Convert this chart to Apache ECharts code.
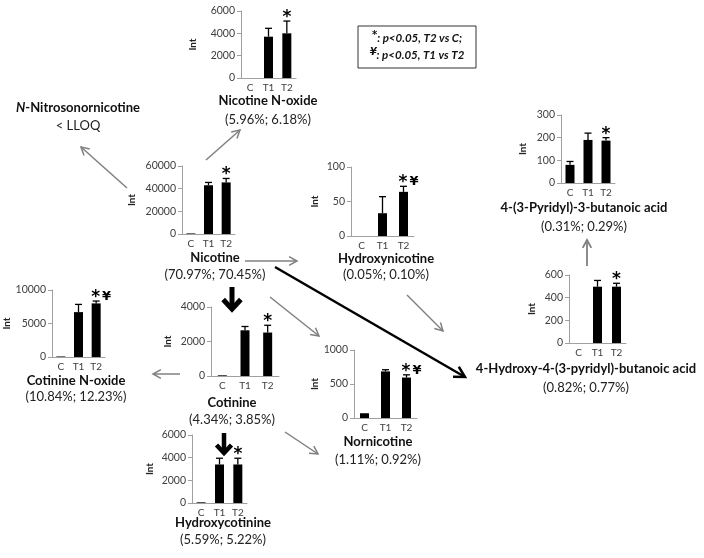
<!DOCTYPE html>
<html>
<head>
<meta charset="utf-8">
<script src="https://cdn.jsdelivr.net/npm/echarts@6/dist/echarts.min.js"></script>
<style>
  html, body { margin: 0; padding: 0; background: #fff; }
  #chart { width: 704px; height: 558px; }
</style>
</head>
<body>
<div id="chart"></div>
<script>
// groups on every small chart
const categories = ['C', 'T1', 'T2'];

// mean, error (SD) and significance marks per metabolite
const nicotineOxideMean = [0, 3700, 4000];
const nicotineOxideErr = [0, 750, 1100];
const nicotineOxideSig = ['', '', '*'];
const nicotineOxideTicks = [0, 2000, 4000, 6000];

const nicotineMean = [500, 43000, 45500];
const nicotineErr = [0, 2500, 3500];
const nicotineSig = ['', '', '*'];
const nicotineTicks = [0, 20000, 40000, 60000];

const hydroxynicotineMean = [0, 33, 64];
const hydroxynicotineErr = [0, 24, 8];
const hydroxynicotineSig = ['', '', '*¥'];
const hydroxynicotineTicks = [0, 50, 100];

const pyridylButanoicMean = [80, 190, 187];
const pyridylButanoicErr = [15, 30, 13];
const pyridylButanoicSig = ['', '', '*'];
const pyridylButanoicTicks = [0, 100, 200, 300];

const hydroxyButanoicMean = [0, 497, 497];
const hydroxyButanoicErr = [0, 55, 30];
const hydroxyButanoicSig = ['', '', '*'];
const hydroxyButanoicTicks = [0, 200, 400, 600];

const cotinineOxideMean = [80, 6700, 8000];
const cotinineOxideErr = [0, 1150, 350];
const cotinineOxideSig = ['', '', '*¥'];
const cotinineOxideTicks = [0, 5000, 10000];

const cotinineMean = [40, 2650, 2520];
const cotinineErr = [0, 220, 420];
const cotinineSig = ['', '', '*'];
const cotinineTicks = [0, 2000, 4000];

const nornicotineMean = [70, 685, 595];
const nornicotineErr = [0, 25, 40];
const nornicotineSig = ['', '', '*¥'];
const nornicotineTicks = [0, 500, 1000];

const hydroxycotinineMean = [60, 3400, 3400];
const hydroxycotinineErr = [0, 550, 550];
const hydroxycotinineSig = ['', '', '*'];
const hydroxycotinineTicks = [0, 2000, 4000, 6000];

// panel layout: [left, top, width, height], name gap, label centre x, title y, percent y
const panels = [
  { name: 'Nicotine N-oxide', pct: '(5.96%; 6.18%)', mean: nicotineOxideMean, err: nicotineOxideErr, sig: nicotineOxideSig, ticks: nicotineOxideTicks,
    box: [241, 11, 55, 67], gap: 43, tx: 268, ty: 101, py: 120 },
  { name: 'Nicotine', pct: '(70.97%; 70.45%)', mean: nicotineMean, err: nicotineErr, sig: nicotineSig, ticks: nicotineTicks,
    box: [182, 166, 53, 68], gap: 45, tx: 215, ty: 258, py: 275 },
  { name: 'Hydroxynicotine', pct: '(0.05%; 0.10%)', mean: hydroxynicotineMean, err: hydroxynicotineErr, sig: hydroxynicotineSig, ticks: hydroxynicotineTicks,
    box: [351, 167, 63, 69], gap: 31, tx: 386, ty: 259, py: 275 },
  { name: '4-(3-Pyridyl)-3-butanoic acid', pct: '(0.31%; 0.29%)', mean: pyridylButanoicMean, err: pyridylButanoicErr, sig: pyridylButanoicSig, ticks: pyridylButanoicTicks,
    box: [561, 115, 54, 68], gap: 33, tx: 584, ty: 208, py: 227 },
  { name: '4-Hydroxy-4-(3-pyridyl)-butanoic acid', pct: '(0.82%; 0.77%)', mean: hydroxyButanoicMean, err: hydroxyButanoicErr, sig: hydroxyButanoicSig, ticks: hydroxyButanoicTicks,
    box: [569, 275, 57, 68], gap: 32, tx: 586, ty: 369, py: 388 },
  { name: 'Cotinine N-oxide', pct: '(10.84%; 12.23%)', mean: cotinineOxideMean, err: cotinineOxideErr, sig: cotinineOxideSig, ticks: cotinineOxideTicks,
    box: [52, 290, 53, 67], gap: 40, tx: 76, ty: 381, py: 397 },
  { name: 'Cotinine', pct: '(4.34%; 3.85%)', mean: cotinineMean, err: cotinineErr, sig: cotinineSig, ticks: cotinineTicks,
    box: [211, 307, 68, 69], gap: 38, tx: 232, ty: 403, py: 420 },
  { name: 'Nornicotine', pct: '(1.11%; 0.92%)', mean: nornicotineMean, err: nornicotineErr, sig: nornicotineSig, ticks: nornicotineTicks,
    box: [354, 350, 63, 68], gap: 30, tx: 378, ty: 442, py: 460 },
  { name: 'Hydroxycotinine', pct: '(5.59%; 5.22%)', mean: hydroxycotinineMean, err: hydroxycotinineErr, sig: hydroxycotinineSig, ticks: hydroxycotinineTicks,
    box: [192, 435, 55, 68], gap: 37, tx: 223, ty: 523, py: 540 }
];

const FONT = 'Lato, "Open Sans", sans-serif';
const axisGray = '#a0a0a0';
const arrowGray = '#808080';

// open "V" arrow as graphic elements
function arrow (x1, y1, x2, y2, w, color, head, spread) {
  const ang = Math.atan2(y2 - y1, x2 - x1);
  const s = spread || 0.5;
  const p1 = [x2 + head * Math.cos(ang + Math.PI - s), y2 + head * Math.sin(ang + Math.PI - s)];
  const p2 = [x2 + head * Math.cos(ang + Math.PI + s), y2 + head * Math.sin(ang + Math.PI + s)];
  return [
    { type: 'line', shape: { x1: x1, y1: y1, x2: x2, y2: y2 }, style: { stroke: color, lineWidth: w } },
    { type: 'polyline', shape: { points: [p1, [x2, y2], p2] }, style: { stroke: color, lineWidth: w, fill: null, lineJoin: 'miter' } }
  ];
}

function text (x, y, str, font, extra) {
  return {
    type: 'text', x: x, y: y,
    style: Object.assign({ text: str, font: font, fill: '#111', align: 'center', verticalAlign: 'middle' }, extra || {})
  };
}

const graphics = [];
panels.forEach(p => {
  graphics.push(text(p.tx, p.ty, p.name, 'bold 13px ' + FONT));
  graphics.push(text(p.tx, p.py, p.pct, '13px ' + FONT, { fill: '#222' }));
});

graphics.push({
  type: 'text', x: 78, y: 108,
  style: {
    text: '{i|N}{b|-Nitrosonornicotine}', align: 'center', verticalAlign: 'middle',
    rich: {
      i: { font: 'italic bold 13px ' + FONT, fill: '#111' },
      b: { font: 'bold 13px ' + FONT, fill: '#111' }
    }
  }
});
graphics.push(text(78, 126, '< LLOQ', '13px ' + FONT, { fill: '#222' }));

// legend box
graphics.push({ type: 'rect', shape: { x: 358, y: 26, width: 118, height: 42 }, style: { fill: '#fff', stroke: '#333', lineWidth: 1 } });
graphics.push({
  type: 'text', x: 417, y: 47,
  style: {
    text: '{s|*}{t|: p<0.05, T2 vs C;}\n{s|¥}{t|: p<0.05, T1 vs T2}', align: 'center', verticalAlign: 'middle',
    rich: {
      s: { font: 'italic bold 10px "DejaVu Sans", sans-serif', fill: '#111', verticalAlign: 'top', lineHeight: 17 },
      t: { font: 'italic bold 11.5px ' + FONT, fill: '#111', lineHeight: 17 }
    }
  }
});

// pathway arrows
[
  arrow(127, 188, 81, 147, 1.5, arrowGray, 9),
  arrow(206, 160, 240, 130, 1.5, arrowGray, 9),
  arrow(245, 261, 297, 261, 1.5, arrowGray, 9),
  arrow(270, 297, 319, 336, 1.5, arrowGray, 9),
  arrow(407, 295, 443, 331, 1.5, arrowGray, 9),
  arrow(587, 266, 587, 240, 1.8, arrowGray, 9),
  arrow(180, 374, 153, 374, 1.5, arrowGray, 9),
  arrow(285, 432, 318, 454, 1.5, arrowGray, 9),
  arrow(275, 267, 465, 377, 2.5, '#000', 12),
  arrow(232, 287, 232, 309, 5, '#000', 13, 0.75),
  arrow(224, 433, 224, 453, 4.5, '#000', 11, 0.75)
].forEach(a => graphics.push(...a));

const series = [];
panels.forEach((p, i) => {
  series.push({
    type: 'bar', xAxisIndex: i, yAxisIndex: i,
    data: p.mean, barWidth: 9,
    itemStyle: { color: '#000' },
    silent: true
  });
  series.push({
    type: 'custom', xAxisIndex: i, yAxisIndex: i, z: 3, silent: true,
    data: p.mean.map((v, k) => [k, v, v + p.err[k]]),
    renderItem: function (params, api) {
      const base = api.coord([api.value(0), api.value(1)]);
      const top = api.coord([api.value(0), api.value(2)]);
      const kids = [];
      if (api.value(2) > api.value(1)) {
        kids.push({ type: 'line', shape: { x1: base[0], y1: base[1], x2: top[0], y2: top[1] }, style: { stroke: '#000', lineWidth: 1.3 } });
        kids.push({ type: 'line', shape: { x1: top[0] - 3.5, y1: top[1], x2: top[0] + 3.5, y2: top[1] }, style: { stroke: '#000', lineWidth: 1.3 } });
      }
      const mark = p.sig[params.dataIndex];
      if (mark) {
        const two = mark.length > 1;
        kids.push({
          type: 'text', x: top[0] + (two ? 5 : 0), y: top[1] + 5,
          style: {
            text: two ? '{a|*}{y|¥}' : '{a|*}', align: 'center', verticalAlign: 'bottom',
            rich: {
              a: { font: 'bold 17px "DejaVu Sans", sans-serif', fill: '#000', verticalAlign: 'bottom' },
              y: { font: 'bold 13px "DejaVu Sans", sans-serif', fill: '#000', verticalAlign: 'bottom', padding: [0, 0, 3, 2] }
            }
          }
        });
      }
      return { type: 'group', children: kids };
    }
  });
});

const chart = echarts.init(document.getElementById('chart'));
chart.setOption({
  animation: false,
  backgroundColor: '#fff',
  grid: panels.map(p => ({ left: p.box[0], top: p.box[1], width: p.box[2], height: p.box[3] })),
  xAxis: panels.map((p, i) => ({
    gridIndex: i, type: 'category', data: categories,
    axisLine: { lineStyle: { color: axisGray } },
    axisTick: { length: 4, lineStyle: { color: axisGray } },
    axisLabel: { fontSize: 10, color: '#404040', margin: 5, fontFamily: FONT, interval: 0 }
  })),
  yAxis: panels.map((p, i) => ({
    gridIndex: i, type: 'value', min: 0,
    max: p.ticks[p.ticks.length - 1], interval: p.ticks[1],
    name: 'Int', nameLocation: 'middle', nameGap: p.gap,
    nameTextStyle: { fontWeight: 'bold', fontSize: 10, color: '#222', fontFamily: FONT },
    axisLine: { show: true, lineStyle: { color: axisGray } },
    axisTick: { show: true, length: 4, lineStyle: { color: axisGray } },
    splitLine: { show: false },
    axisLabel: { fontSize: 10.5, color: '#404040', margin: 6, fontFamily: FONT, formatter: v => String(v) }
  })),
  series: series,
  graphic: graphics
});
</script>
</body>
</html>
